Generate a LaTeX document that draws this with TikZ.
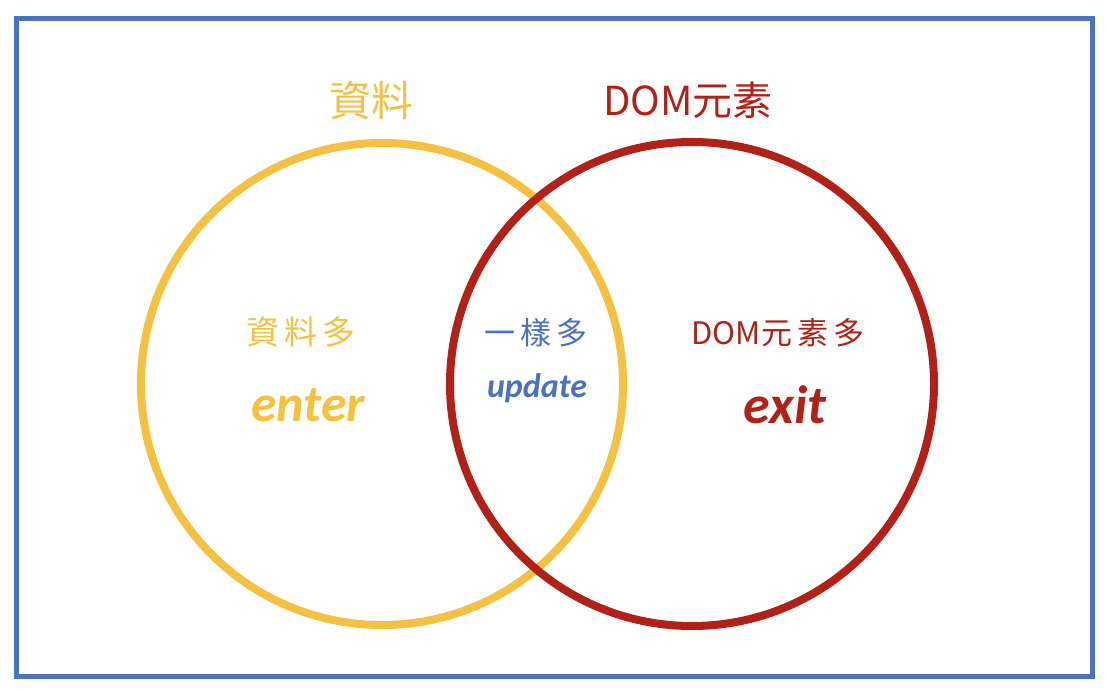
\documentclass[tikz,border=0pt]{standalone}
\usepackage{fontspec}
\setmainfont{Carlito}
\newfontfamily\cjk{Noto Sans CJK TC}
\definecolor{vyellow}{RGB}{244,193,66}
\definecolor{vred}{RGB}{178,33,24}
\definecolor{vblue}{RGB}{74,114,192}
\begin{document}
\begin{tikzpicture}[x=1pt,y=-1pt,
  ring/.style={line width=8pt},
  cjklbl/.style={inner sep=0pt,font=\cjk},
  latlbl/.style={inner sep=0pt,font=\itshape}]
\useasboundingbox (0,0) rectangle (1108,692);
\fill[white] (0,0) rectangle (1108,692);
\node[draw=vblue,line width=5pt,minimum width=1076pt,minimum height=658pt,inner sep=0pt] (frame) at (554.5,347.5) {};
\node[circle,draw=vyellow,ring,minimum size=482pt,inner sep=0pt] (data) at (382,384) {};
\node[circle,draw=vred,ring,minimum size=484pt,inner sep=0pt] (dom) at (692,384) {};
\node[cjklbl,text=vyellow,font=\cjk\fontsize{42}{48}\selectfont] (tdata) at (371,100) {資料};
\node[cjklbl,text=vred,font=\cjk\fontsize{40}{46}\selectfont] (tdom) at (688,100) {DOM元素};
\node[cjklbl,text=vyellow,font=\cjk\fontsize{33}{40}\selectfont] (tmore) at (301,332) {資\,料\,多};
\node[latlbl,text=vyellow,font=\bfseries\itshape\fontsize{52}{60}\selectfont] (tenter) at (308,405) {enter};
\node[cjklbl,text=vblue,font=\cjk\fontsize{31}{36}\selectfont] (tsame) at (536,333) {一\,樣\,多};
\node[latlbl,text=vblue,font=\bfseries\itshape\fontsize{34}{40}\selectfont] (tupdate) at (537,388) {update};
\node[cjklbl,text=vred,font=\cjk\fontsize{31}{36}\selectfont] (tdommore) at (778,333) {DOM元\,素\,多};
\node[latlbl,text=vred,font=\bfseries\itshape\fontsize{54}{60}\selectfont] (texit) at (785,405) {exit};
\end{tikzpicture}
\end{document}
